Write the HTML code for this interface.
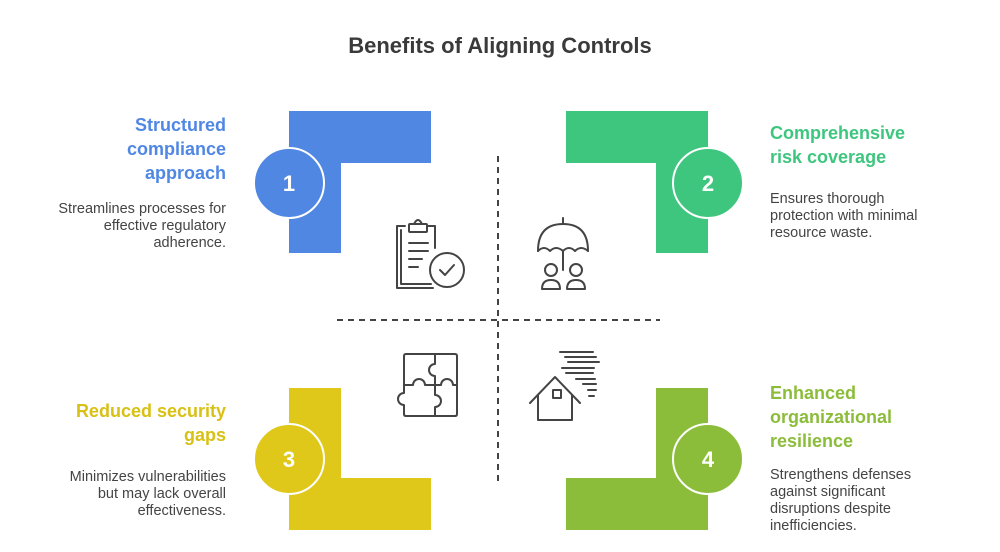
<!DOCTYPE html>
<html><head><meta charset="utf-8"><style>
html,body{margin:0;padding:0;background:#fff;}
svg{display:block;font-family:"Liberation Sans",Arial,sans-serif;}
</style></head><body>
<svg width="1000" height="552" viewBox="0 0 1000 552" xmlns="http://www.w3.org/2000/svg">
<rect width="1000" height="552" fill="#fff"/>
<text x="500" y="53" text-anchor="middle" font-size="22" font-weight="bold" fill="#3a3a3a">Benefits of Aligning Controls</text>

<line x1="498" y1="156" x2="498" y2="486" stroke="#444" stroke-width="2" stroke-dasharray="6,5"/>
<line x1="337" y1="320" x2="660" y2="320" stroke="#444" stroke-width="2" stroke-dasharray="6,5"/>

<path d="M289 111 H431 V163 H341 V253 H289 Z" fill="#4f87e3"/>
<circle cx="289" cy="183" r="35" fill="#4f87e3" stroke="#fff" stroke-width="2"/>
<text x="289" y="191" text-anchor="middle" font-size="22" font-weight="bold" fill="#fff">1</text>
<path d="M566 111 H708 V253 H656 V163 H566 Z" fill="#3ec67f"/>
<circle cx="708" cy="183" r="35" fill="#3ec67f" stroke="#fff" stroke-width="2"/>
<text x="708" y="191" text-anchor="middle" font-size="22" font-weight="bold" fill="#fff">2</text>
<path d="M289 388 H341 V478 H431 V530 H289 Z" fill="#e0c81a"/>
<circle cx="289" cy="459" r="35" fill="#e0c81a" stroke="#fff" stroke-width="2"/>
<text x="289" y="467" text-anchor="middle" font-size="22" font-weight="bold" fill="#fff">3</text>
<path d="M656 388 H708 V530 H566 V478 H656 Z" fill="#8cbd3a"/>
<circle cx="708" cy="459" r="35" fill="#8cbd3a" stroke="#fff" stroke-width="2"/>
<text x="708" y="467" text-anchor="middle" font-size="22" font-weight="bold" fill="#fff">4</text>

<g font-size="18" font-weight="bold" fill="#4f87e3" text-anchor="end">
<text x="226" y="131">Structured</text><text x="226" y="155">compliance</text><text x="226" y="179">approach</text></g>
<g font-size="14.5" fill="#444" text-anchor="end">
<text x="226" y="213">Streamlines processes for</text><text x="226" y="230">effective regulatory</text><text x="226" y="247">adherence.</text></g>

<g font-size="18" font-weight="bold" fill="#3ec67f">
<text x="770" y="139">Comprehensive</text><text x="770" y="163">risk coverage</text></g>
<g font-size="14.5" fill="#444">
<text x="770" y="203">Ensures thorough</text><text x="770" y="220">protection with minimal</text><text x="770" y="237">resource waste.</text></g>

<g font-size="18" font-weight="bold" fill="#d8c015" text-anchor="end">
<text x="226" y="417">Reduced security</text><text x="226" y="441">gaps</text></g>
<g font-size="14.5" fill="#444" text-anchor="end">
<text x="226" y="481">Minimizes vulnerabilities</text><text x="226" y="498">but may lack overall</text><text x="226" y="515">effectiveness.</text></g>

<g font-size="18" font-weight="bold" fill="#8cbd3a">
<text x="770" y="399">Enhanced</text><text x="770" y="423">organizational</text><text x="770" y="447">resilience</text></g>
<g font-size="14.5" fill="#444">
<text x="770" y="479">Strengthens defenses</text><text x="770" y="496">against significant</text><text x="770" y="513">disruptions despite</text><text x="770" y="530">inefficiencies.</text></g>

<g fill="none" stroke="#444" stroke-width="2" stroke-linecap="round" stroke-linejoin="round">
<path d="M405 226 h-8 v62 h36"/>
<path d="M401 230 v54 h30"/>
<rect x="409" y="224" width="18" height="8" rx="1"/>
<path d="M414 224 q4 -8 8 0"/>
<path d="M427 226 h8 v22"/>
<line x1="409" y1="243" x2="428" y2="243"/><line x1="409" y1="251" x2="428" y2="251"/><line x1="409" y1="259" x2="422" y2="259"/><line x1="409" y1="267" x2="418" y2="267"/>
<circle cx="447" cy="270" r="17"/>
<path d="M440 270 l5 5 l9 -10"/>
<line x1="563" y1="218" x2="563" y2="224"/>
<path d="M538 251 q0 -27 25 -27 q25 0 25 27"/>
<path d="M538 251 q6 -6 12 0 q6 -6 13 0 q6 -6 12 0 q6 -6 13 0"/>
<line x1="563" y1="251" x2="563" y2="270"/>
<circle cx="551" cy="270" r="6"/><circle cx="576" cy="270" r="6"/>
<path d="M542 289 q0 -9 9 -9 q9 0 9 9 z"/><path d="M567 289 q0 -9 9 -9 q9 0 9 9 z"/>
<!-- puzzle -->
<path d="M406 354 H455 q2 0 2 2 V414 q0 2 -2 2 H406 q-2 0 -2 -2 V405 a6 6 0 0 1 0 -12 V385 M406 354 q-2 0 -2 2 V385"/>
<path d="M404 365 a6 6 0 0 0 0 -0" />
<path d="M435 354 V364 a6 6 0 0 0 0 12 V385"/>
<path d="M435 385 V395 a6 6 0 0 1 0 12 V416"/>
<path d="M404 385 H413 a6 6 0 0 1 12 0 H435"/>
<path d="M435 385 H441 a6 6 0 0 1 12 0 H457"/>
<path d="M530 403 l25 -26 l25 26"/>
<path d="M538 395 v25 h34 v-25"/>
<rect x="553" y="390" width="8" height="8"/>
<line x1="560" y1="352" x2="593" y2="352"/><line x1="565" y1="357" x2="596" y2="357"/><line x1="568" y1="362" x2="599" y2="362"/>
<line x1="562" y1="368" x2="594" y2="368"/><line x1="566" y1="373" x2="593" y2="373"/><line x1="576" y1="379" x2="595" y2="379"/>
<line x1="583" y1="384" x2="596" y2="384"/><line x1="588" y1="390" x2="596" y2="390"/><line x1="589" y1="396" x2="594" y2="396"/>
</g>
</svg>
</body></html>
